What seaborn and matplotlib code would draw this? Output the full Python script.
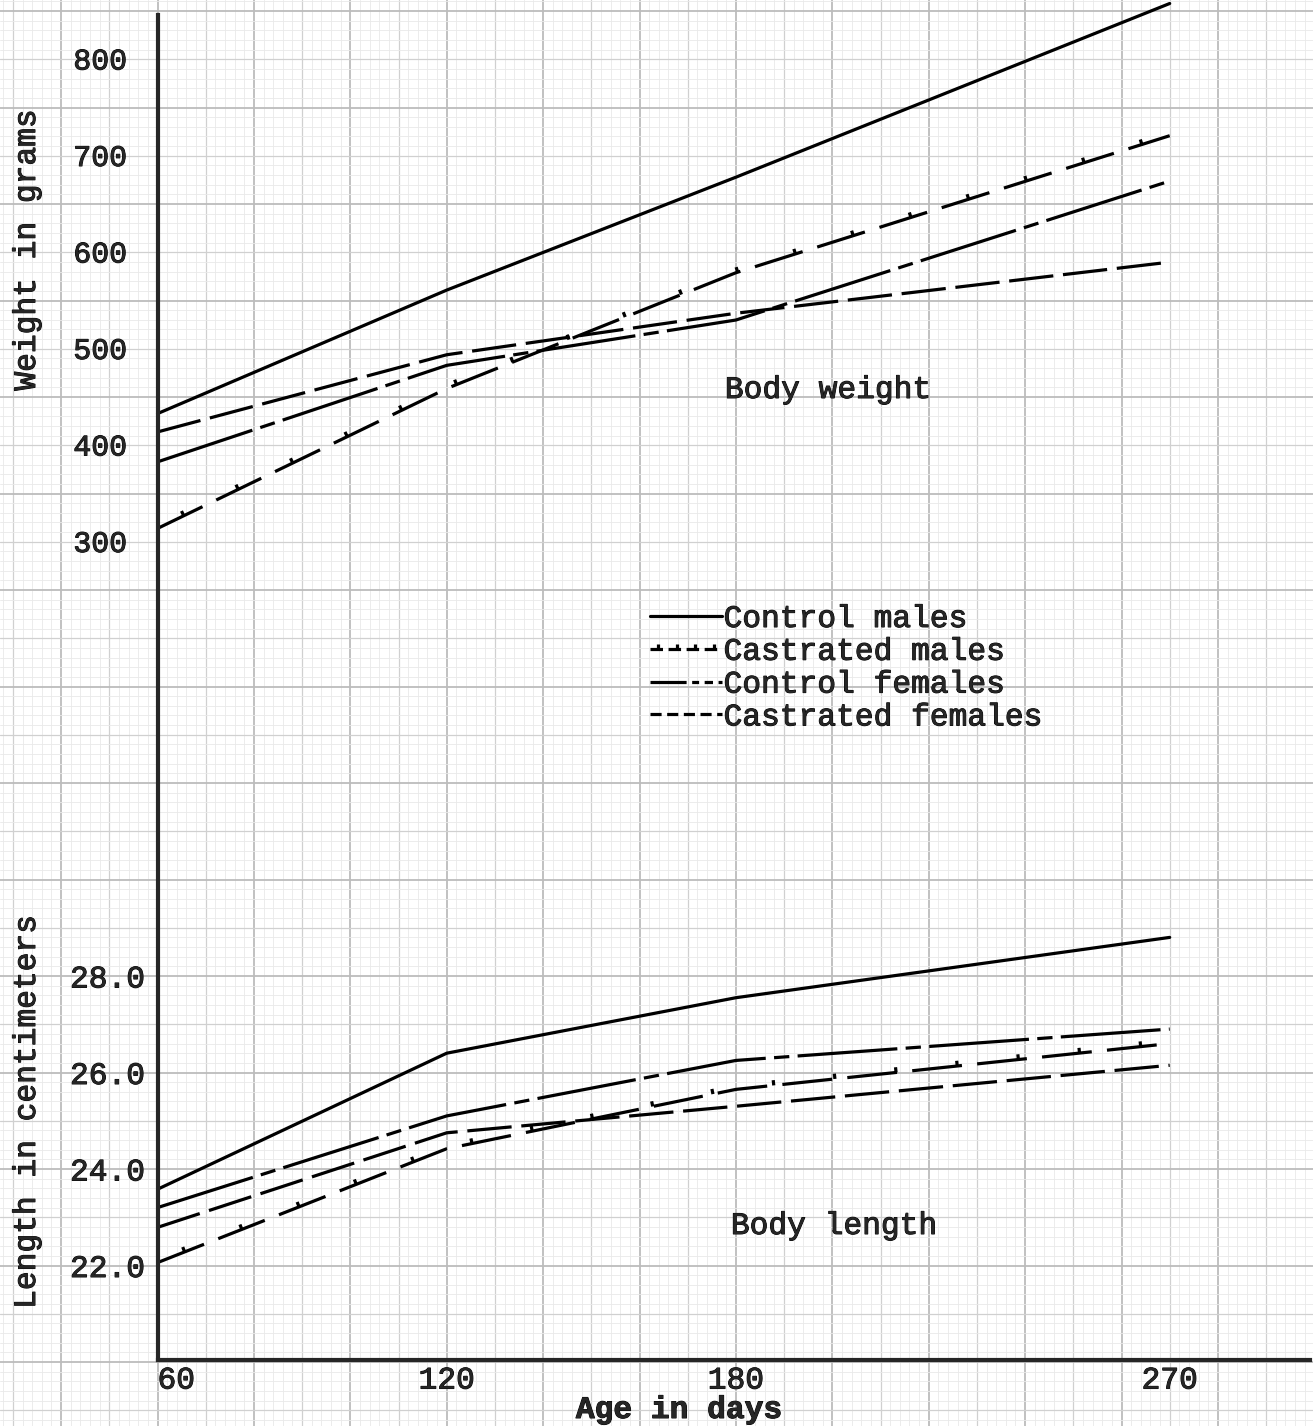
import numpy as np
import pandas as pd
import matplotlib
matplotlib.use("Agg")
import matplotlib.pyplot as plt
import matplotlib.patheffects as pe
from matplotlib.lines import Line2D
import seaborn as sns

# ---------------- data ----------------
ages = [60, 120, 180, 270]
age_ticks = [60, 120, 180, 270]
groups = ["Control males", "Castrated males", "Control females", "Castrated females"]

weight_control_males = [432, 560, 677, 857]
weight_castrated_males = [313, 458, 578, 720]
weight_control_females = [382, 482, 529, 673]
weight_castrated_females = [413, 493, 536, 589]

length_control_males = [23.58, 26.4, 27.55, 28.8]
length_castrated_males = [22.06, 24.42, 25.65, 26.6]
length_control_females = [23.2, 25.1, 26.25, 26.9]
length_castrated_females = [22.79, 24.75, 25.3, 26.15]

weight_ticks = [300, 400, 500, 600, 700, 800]
length_ticks = [22.0, 24.0, 26.0, 28.0]

weights = dict(zip(groups, [weight_control_males, weight_castrated_males,
                            weight_control_females, weight_castrated_females]))
lengths = dict(zip(groups, [length_control_males, length_castrated_males,
                            length_control_females, length_castrated_females]))

# ---------------- style ----------------
sns.set_style("white")
plt.rcParams["font.family"] = ["Liberation Mono", "DejaVu Sans Mono"]
plt.rcParams["lines.scale_dashes"] = False
FS = 22.5
LW = 2.3
TXT_FX = [pe.withStroke(linewidth=0.7, foreground="black")]

styles = {
    "Control males": "-",
    "Castrated males": (0, (36, 11)),
    "Control females": (0, (72, 6, 11, 6)),
    "Castrated females": (0, (32, 7)),
}
legend_styles = {
    "Control males": "-",
    "Castrated males": (0, (9, 4)),
    "Control females": (0, (26, 4, 5, 4, 6, 4)),
    "Castrated females": (0, (8, 4)),
}
ticked = [pe.withTickedStroke(angle=90, spacing=42, length=0.09)]

W, H = 1313, 1426
fig = plt.figure(figsize=(W / 100, H / 100), dpi=100)

# pixel geometry of the hand-drawn scales
x0_px, day_px = 157.5, 4.82          # 60 days at x0_px
L22_px, cm_px = 1265.5, 48.25        # 22 cm at L22_px
w300_px, g_px = 541.0, 0.965         # 300 g at w300_px
ax_left, ax_right, ax_bottom, ax_top = 157.5, 1310.0, 1360.0, 0.0

def px_to_day(px):
    return 60 + (px - x0_px) / day_px

def py_to_len(py):
    return 22 + (L22_px - py) / cm_px

def py_to_w(py):
    return 300 + (w300_px - py) / g_px

# ---------------- graph paper background ----------------
bg = fig.add_axes([0, 0, 1, 1], zorder=0)
bg.set_xlim(px_to_day(0), px_to_day(W))
bg.set_ylim(py_to_len(H), py_to_len(0))
bg.axis("off")
xd = np.arange(28, 300, 2)
yl = np.round(np.arange(18.8, 48.4, 0.2), 1)
for v in xd:
    if v % 20 == 0:
        c, lw = "#bcbcbc", 1.3
    elif v % 10 == 0:
        c, lw = "#d0d0d0", 0.9
    else:
        c, lw = "#e9e9e9", 0.6
    bg.axvline(v, color=c, lw=lw, zorder=0)
for v in yl:
    r = round(v * 5)
    if r % 10 == 0:
        c, lw = "#bcbcbc", 1.3
    elif r % 5 == 0:
        c, lw = "#d0d0d0", 0.9
    else:
        c, lw = "#e9e9e9", 0.6
    bg.axhline(v, color=c, lw=lw, zorder=0)

# ---------------- data axes ----------------
rect = [ax_left / W, (H - ax_bottom) / H, (ax_right - ax_left) / W, (ax_bottom - ax_top) / H]
ax_l = fig.add_axes(rect, zorder=2)
ax_w = fig.add_axes(rect, zorder=3)
for a in (ax_l, ax_w):
    a.set_facecolor("none")
    a.set_xlim(60, px_to_day(ax_right))
ax_w.set_ylim(py_to_w(ax_bottom), py_to_w(ax_top))
ax_l.set_ylim(py_to_len(ax_bottom), py_to_len(ax_top))

df_w = pd.DataFrame([(g, a, v) for g in groups for a, v in zip(ages, weights[g])],
                    columns=["group", "age", "weight"])
df_l = pd.DataFrame([(g, a, v) for g in groups for a, v in zip(ages, lengths[g])],
                    columns=["group", "age", "length"])

for g in groups:
    sns.lineplot(data=df_w[df_w.group == g], x="age", y="weight", ax=ax_w,
                 color="black", linewidth=LW, linestyle=styles[g],
                 errorbar=None, legend=False)
    ln = ax_w.lines[-1]
    ln.set_clip_on(False)
    if g == "Castrated males":
        ln.set_path_effects(ticked)
    sns.lineplot(data=df_l[df_l.group == g], x="age", y="length", ax=ax_l,
                 color="black", linewidth=LW, linestyle=styles[g],
                 errorbar=None, legend=False)
    ln = ax_l.lines[-1]
    if g == "Castrated males":
        ln.set_path_effects(ticked)

# spines
for s in ("top", "right"):
    ax_w.spines[s].set_visible(False)
for s in ax_l.spines.values():
    s.set_visible(False)
ax_w.spines["left"].set_linewidth(3)
ax_w.spines["bottom"].set_linewidth(3)
ax_w.spines["left"].set_bounds(py_to_w(ax_bottom), py_to_w(15))

# ticks
ax_w.set_xticks(age_ticks)
ax_w.set_xticklabels([str(a) for a in age_ticks], fontsize=FS)
ax_w.tick_params(axis="x", length=0, pad=4)
ax_w.get_xticklabels()[0].set_ha("left")
ax_w.set_yticks(weight_ticks)
ax_w.set_yticklabels([str(v) for v in weight_ticks], fontsize=FS - 1)
ax_w.tick_params(axis="y", length=0, pad=22)
ax_l.set_xticks([])
ax_l.set_xlabel("")
ax_l.set_yticks(length_ticks)
ax_l.set_yticklabels([f"{v:.1f}" for v in length_ticks], fontsize=FS)
ax_l.tick_params(axis="y", length=0, pad=9)

# axis titles
ax_w.set_xlabel("Age in days", fontsize=FS, fontweight="bold")
ax_w.xaxis.set_label_coords((679 - ax_left) / (ax_right - ax_left), (ax_bottom - 1410) / ax_bottom)
ax_w.xaxis.label.set_va("center")
ax_w.set_ylabel("Weight in grams", fontsize=FS)
ax_w.yaxis.set_label_coords((27 - ax_left) / (ax_right - ax_left), (ax_bottom - 250) / ax_bottom)
ax_w.yaxis.label.set_va("center")
ax_l.set_ylabel("Length in centimeters", fontsize=FS)
ax_l.yaxis.set_label_coords((27 - ax_left) / (ax_right - ax_left), (ax_bottom - 1112) / ax_bottom)
ax_l.yaxis.label.set_va("center")

# panel titles
ax_w.text(px_to_day(828), py_to_w(390), "Body weight", fontsize=FS, ha="center", va="center")
ax_l.text(px_to_day(834), py_to_len(1226), "Body length", fontsize=FS, ha="center", va="center")

# legend
handles = []
for g in groups:
    h = Line2D([], [], color="black", lw=LW, linestyle=legend_styles[g])
    if g == "Castrated males":
        h.set_path_effects([pe.withTickedStroke(angle=90, spacing=12, length=0.3)])
    handles.append(h)
leg = ax_w.legend(handles, groups, loc="upper left", bbox_to_anchor=(650 / W, 1 - 604 / H),
                  bbox_transform=fig.transFigure, frameon=False, fontsize=FS,
                  handlelength=72 / (FS * 100 / 72), handletextpad=0.05, borderpad=0,
                  borderaxespad=0, labelspacing=0.09)

# give the typed text a slightly heavier typewriter stroke
texts = [ax_w.xaxis.label, ax_w.yaxis.label, ax_l.yaxis.label]
texts += ax_w.get_xticklabels() + ax_w.get_yticklabels() + ax_l.get_yticklabels()
texts += ax_w.texts + ax_l.texts + leg.get_texts()
for t in texts:
    t.set_path_effects(TXT_FX)

fig.savefig("out.png", dpi=100)
